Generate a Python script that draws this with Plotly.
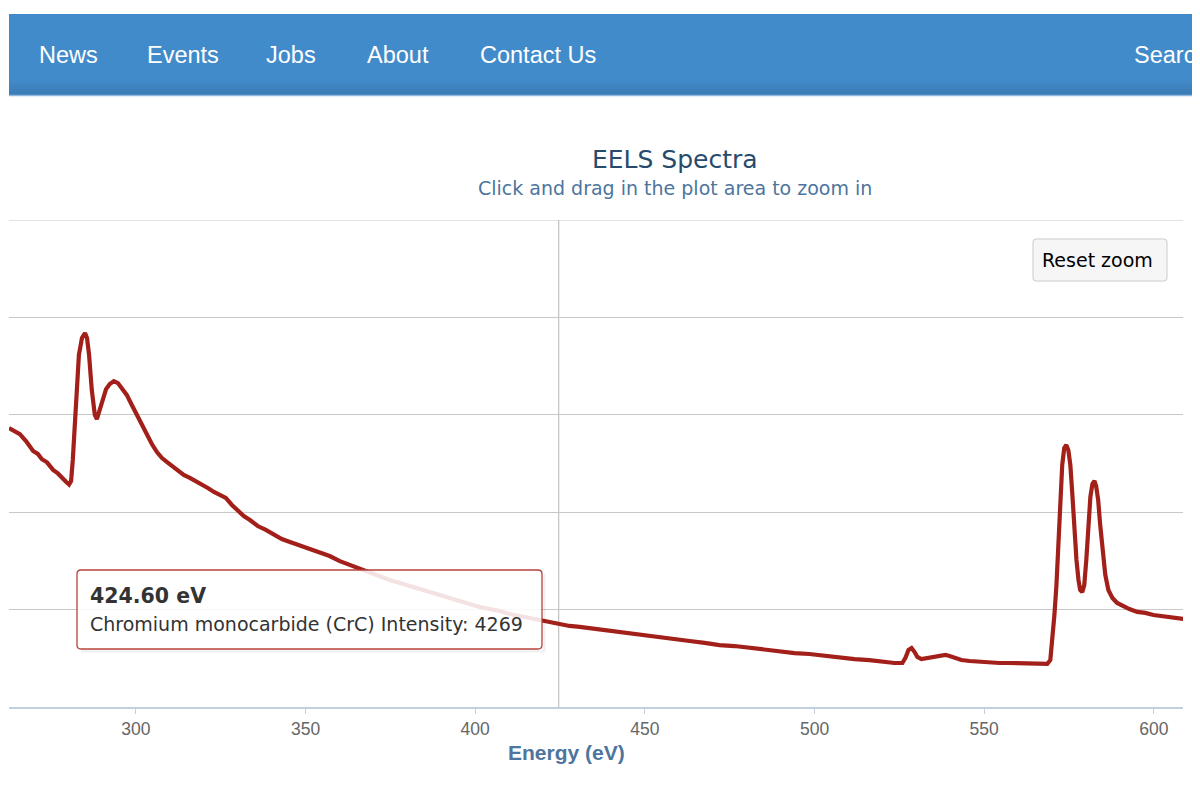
import plotly.graph_objects as go

# ---------------- data ----------------
energy = [262.6, 264.4, 265.8, 267.6, 269.7, 271.1, 272.3, 273.8, 275.6, 277.0, 278.5, 279.4, 280.3, 280.9,
          281.4, 282.0, 282.6, 283.2, 284.1, 285.0, 285.6, 286.2, 287.0, 287.9, 288.5, 289.4, 290.3, 291.2,
          292.3, 293.5, 294.7, 295.9, 297.3, 298.8, 300.3, 301.8, 303.2, 304.7, 306.2, 307.7, 309.1, 310.6,
          312.4, 314.1, 315.9, 317.7, 319.4, 321.2, 323.0, 324.7, 326.5, 328.3, 330.0, 331.8, 333.6, 335.9,
          338.3, 340.6, 343.0, 345.4, 347.7, 350.1, 352.4, 354.8, 357.1, 360.1, 363.0, 366.0, 368.9, 371.9,
          374.8, 377.8, 380.7, 383.7, 386.6, 389.5, 392.5, 395.4, 398.4, 401.3, 404.3, 407.2, 410.2, 413.1,
          416.1, 419.0, 421.9, 424.6, 427.8, 430.8, 433.7, 436.7, 441.1, 445.5, 449.9, 454.3, 458.8, 463.2,
          467.6, 472.0, 476.4, 480.9, 485.3, 489.7, 494.1, 498.5, 502.9, 507.4, 511.8, 516.2, 520.6, 523.6,
          525.9, 526.8, 527.7, 528.6, 529.5, 530.3, 531.5, 533.3, 535.0, 536.8, 538.6, 539.8, 541.2, 543.3,
          545.7, 548.6, 551.5, 554.5, 557.4, 560.4, 563.3, 566.3, 568.6, 569.5, 570.1, 570.7, 571.3, 571.9,
          572.5, 573.0, 573.6, 574.2, 574.8, 575.4, 576.0, 576.6, 577.2, 577.8, 578.3, 578.9, 579.5, 580.1,
          580.7, 581.3, 581.9, 582.5, 583.0, 583.6, 584.2, 584.8, 585.7, 586.6, 587.8, 589.2, 591.0, 592.8,
          595.1, 597.5, 599.9, 602.2, 604.6, 606.9, 609.0]

intensity = [14320, 14150, 14010, 13650, 13140, 12990, 12720, 12560, 12170, 11990, 11680, 11560, 11420, 11600,
             12680, 14730, 16530, 18070, 18940, 19200, 18940, 18070, 16270, 14990, 14780, 15250, 15860, 16320,
             16580, 16730, 16630, 16370, 16020, 15500, 14990, 14420, 13910, 13500, 13090, 12780, 12580, 12370,
             12170, 11910, 11760, 11600, 11450, 11240, 11040, 10880, 10730, 10370, 10060, 9800, 9600, 9290,
             9090, 8830, 8620, 8470, 8320, 8160, 8060, 7900, 7750, 7490, 7290, 7080, 6880, 6720,
             6520, 6370, 6210, 6060, 5900, 5750, 5600, 5440, 5290, 5130, 5030, 4930, 4770, 4670,
             4570, 4470, 4360, 4269, 4160, 4110, 4050, 3950, 3900, 3800, 3700, 3590, 3490, 3390,
             3290, 3180, 3130, 3030, 2930, 2870, 2770, 2720, 2620, 2520, 2460, 2410, 2310, 2260,
             2260, 2520, 2930, 3030, 2820, 2570, 2460, 2520, 2570, 2620, 2670, 2620, 2520, 2410,
             2360, 2310, 2310, 2260, 2260, 2260, 2210, 2260, 2210, 2410, 3440, 4720, 6260, 8570,
             10630, 12420, 13290, 13450, 13190, 12420, 10880, 9090, 7550, 6520, 6010, 5900, 6260, 7550,
             9340, 10780, 11450, 11600, 11340, 10630, 9340, 8060, 6780, 6010, 5600, 5340, 5180, 5030,
             4880, 4830, 4720, 4670, 4620, 4570, 4520]

x_ticks = [300, 350, 400, 450, 500, 550, 600]
x_range = [262.6, 608.6]
y_range = [0, 25000]
y_step = 5000

series_name = "Chromium monocarbide (CrC)"
hover_energy = 424.60
hover_intensity = 4269

nav_items = ["News", "Events", "Jobs", "About", "Contact Us", "Search"]
nav_x = [37, 145, 264, 365, 478, 1132]

# ---------------- layout helpers (page pixel -> paper) ----------------
OFF = 8                      # body margin of the html page
FIG_W, FIG_H = 1200 - OFF, 785 - 2 * OFF
L, T, W, H = 9, 220, 1174, 487   # plot area in page pixels


def px(x):
    return (x - L) / W


def py(y):
    return (T + H - y) / H


def rrect_path(x0, y0, x1, y1, r):
    pts = [
        ("M", x0 + r, y0), ("L", x1 - r, y0), ("Q", x1, y0, x1, y0 + r),
        ("L", x1, y1 - r), ("Q", x1, y1, x1 - r, y1), ("L", x0 + r, y1),
        ("Q", x0, y1, x0, y1 - r), ("L", x0, y0 + r), ("Q", x0, y0, x0 + r, y0),
    ]
    s = ""
    for p in pts:
        coords = p[1:]
        parts = [f"{px(coords[i]):.5f},{py(coords[i + 1]):.5f}" for i in range(0, len(coords), 2)]
        s += p[0] + " " + " ".join(parts) + " "
    return s + "Z"


NAV_FONT = "Liberation Sans, Arial, sans-serif"
AX_FONT = "Liberation Sans, Arial, sans-serif"
LUCIDA = "DejaVu Sans, Verdana, sans-serif"

fig = go.Figure()
fig.add_trace(go.Scatter(
    x=energy, y=intensity, mode="lines", name=series_name,
    line=dict(color="#a31f19", width=4.2), hoverinfo="skip",
))

shapes = []
# top grid line (at the top of the y range)
shapes.append(dict(type="line", xref="paper", yref="y", x0=0, x1=1, y0=y_range[1], y1=y_range[1],
                   line=dict(color="#c8c8c8", width=1.2), layer="below"))
# nav bar with soft darker bottom
shapes.append(dict(type="rect", xref="paper", yref="paper", x0=px(9), x1=px(1200), y0=py(95), y1=py(14),
                   fillcolor="#428bca", line=dict(width=0), layer="above"))
grad = ["#4188c6", "#4086c3", "#3f84c0", "#3e82bd", "#3d80ba", "#3c7eb7", "#3b7cb4"]
for i, c in enumerate(grad):
    y_top = 81 + 2 * i
    shapes.append(dict(type="rect", xref="paper", yref="paper", x0=px(9), x1=px(1200),
                       y0=py(y_top + 2), y1=py(y_top), fillcolor=c, line=dict(width=0), layer="above"))
shapes.append(dict(type="line", xref="paper", yref="paper", x0=px(9), x1=px(1200), y0=py(95.5), y1=py(95.5),
                   line=dict(color="#8fb8e0", width=1.5), layer="above"))
# right edge element
shapes.append(dict(type="rect", xref="paper", yref="paper", x0=px(1197), x1=px(1200), y0=py(292), y1=py(230),
                   fillcolor="#666666", line=dict(width=0), layer="above"))
# crosshair
shapes.append(dict(type="line", xref="x", yref="paper", x0=hover_energy, x1=hover_energy, y0=0, y1=1,
                   line=dict(color="#c0c0c0", width=1.2), layer="below"))
# tooltip shadow (right & bottom edges only) + box
for off, a in [(3, 0.05), (2, 0.08)]:
    shapes.append(dict(type="line", xref="paper", yref="paper", x0=px(81), x1=px(542 + off),
                       y0=py(649 + off), y1=py(649 + off), line=dict(color=f"rgba(0,0,0,{a})", width=1),
                       layer="above"))
    shapes.append(dict(type="line", xref="paper", yref="paper", x0=px(542 + off), x1=px(542 + off),
                       y0=py(574), y1=py(649 + off), line=dict(color=f"rgba(0,0,0,{a})", width=1),
                       layer="above"))
shapes.append(dict(type="path", xref="paper", yref="paper", path=rrect_path(77, 570, 542, 649, 4),
                   fillcolor="rgba(255,255,255,0.87)", line=dict(color="#b6423b", width=1.3), layer="above"))
# reset zoom button
shapes.append(dict(type="path", xref="paper", yref="paper", path=rrect_path(1033, 239, 1167, 281, 3),
                   fillcolor="#f6f6f6", line=dict(color="#cccccc", width=1), layer="above"))

annotations = []
for name, x in zip(nav_items, nav_x):
    annotations.append(dict(text=name, xref="paper", yref="paper", x=px(x), y=py(55), xanchor="left",
                            yanchor="middle", showarrow=False,
                            font=dict(family=NAV_FONT, size=23.5, color="#ffffff")))
annotations.append(dict(text="EELS Spectra", xref="paper", yref="paper", x=px(675), y=py(160), xanchor="center",
                        yanchor="middle", showarrow=False, font=dict(family=LUCIDA, size=25, color="#274b6d")))
annotations.append(dict(text="Click and drag in the plot area to zoom in", xref="paper", yref="paper", x=px(675),
                        y=py(188), xanchor="center", yanchor="middle", showarrow=False,
                        font=dict(family=LUCIDA, size=19, color="#4d759e")))
annotations.append(dict(text="<b>Energy (eV)</b>", xref="paper", yref="paper", x=px(566), y=py(752),
                        xanchor="center", yanchor="middle", showarrow=False,
                        font=dict(family=AX_FONT, size=21, color="#4d759e")))
annotations.append(dict(text="Reset zoom", xref="paper", yref="paper", x=px(1097), y=py(260),
                        xanchor="center", yanchor="middle", showarrow=False,
                        font=dict(family=LUCIDA, size=19, color="#000000")))
annotations.append(dict(text=f"<b>{hover_energy:.2f} eV</b>", xref="paper", yref="paper", x=px(88), y=py(596),
                        xanchor="left", yanchor="middle", showarrow=False,
                        font=dict(family=LUCIDA, size=20.5, color="#333333")))
annotations.append(dict(text=f"{series_name} Intensity: {hover_intensity}", xref="paper", yref="paper",
                        x=px(88), y=py(624), xanchor="left", yanchor="middle", showarrow=False,
                        font=dict(family=LUCIDA, size=19, color="#333333")))

fig.update_layout(
    width=FIG_W, height=FIG_H,
    margin=dict(l=L - OFF, r=FIG_W - (L - OFF) - W, t=T - OFF, b=FIG_H - (T - OFF) - H),
    paper_bgcolor="#ffffff", plot_bgcolor="#ffffff",
    showlegend=False,
    shapes=shapes, annotations=annotations,
    xaxis=dict(range=x_range, tickvals=x_ticks, ticks="outside", ticklen=5, tickcolor="#c0d0e0",
               tickwidth=1, showline=True, linecolor="#c0d0e0", linewidth=2, showgrid=False, zeroline=False,
               tickfont=dict(family=AX_FONT, size=17.5, color="#666666")),
    yaxis=dict(range=y_range, dtick=y_step, showgrid=True, gridcolor="#c8c8c8", gridwidth=1.2,
               showticklabels=False, zeroline=False, showline=False),
)

fig.write_html("out.html")
